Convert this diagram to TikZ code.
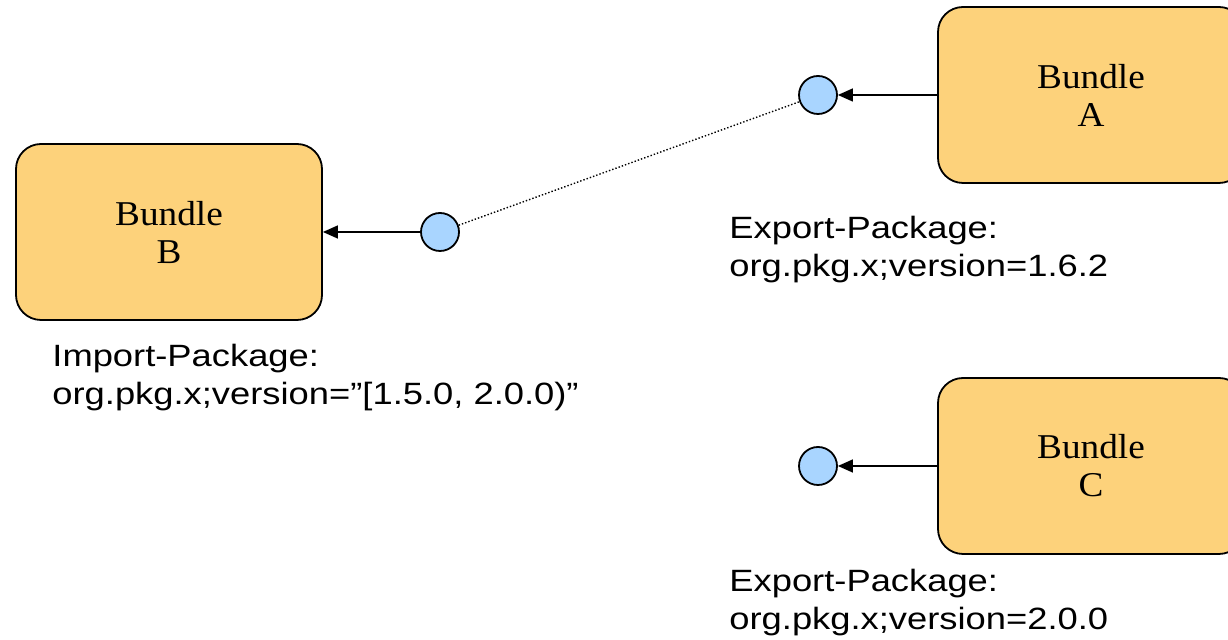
\documentclass[tikz,border=0pt]{standalone}
\usepackage{fontspec}
\setmainfont{Liberation Serif}[FakeStretch=1.07]
\newfontfamily\specfont{Liberation Sans}[FakeStretch=1.18]
\usetikzlibrary{arrows.meta}
\definecolor{bundlefill}{HTML}{FDD27B}
\definecolor{portfill}{HTML}{A9D5FF}
\tikzset{
	bundle/.style={
			draw=black, fill=bundlefill, line width=0.9pt, rounded corners=12.5pt,
			minimum width=153pt, minimum height=88pt, align=center,
			font=\fontsize{17.4}{19}\selectfont
		},
	port/.style={circle, draw=black, fill=portfill, line width=0.9pt, minimum size=19pt, inner sep=0pt},
	wire/.style={-{Triangle[length=7.5pt,width=6.5pt]}, black, line width=0.7pt},
	link/.style={densely dotted, black, line width=0.7pt},
	spec/.style={anchor=base west, inner sep=0pt, align=left, font=\specfont\fontsize{15.4}{19}\selectfont}
}

\begin{document}
\begin{tikzpicture}[x=0.5pt, y=-0.5pt]
		\clip (0, 0) rectangle (1228, 640);

		\node[bundle] (bundleB) at (169, 232) {Bundle\\B};
		\node[bundle] (bundleA) at (1091, 95) {Bundle\\A};
		\node[bundle] (bundleC) at (1091, 466) {Bundle\\C};

		\node[port] (portB) at (440, 232) {};
		\node[port] (portA) at (818, 95) {};
		\node[port] (portC) at (818, 466) {};

		\draw[wire]	(bundleA) to (portA);
		\draw[wire]	(bundleC) to (portC);
		\draw[wire]	(portB) to (bundleB);
		\draw[link]	(portB) to (portA);

		% base anchor sits on the last line
		\node[spec] (specB) at (52, 405) {Import-Package:\\org.pkg.x;version=”[1.5.0, 2.0.0)”};
		\node[spec] (specA) at (729, 277) {Export-Package:\\org.pkg.x;version=1.6.2};
		\node[spec] (specC) at (729, 630) {Export-Package:\\org.pkg.x;version=2.0.0};
	\end{tikzpicture}
\end{document}
